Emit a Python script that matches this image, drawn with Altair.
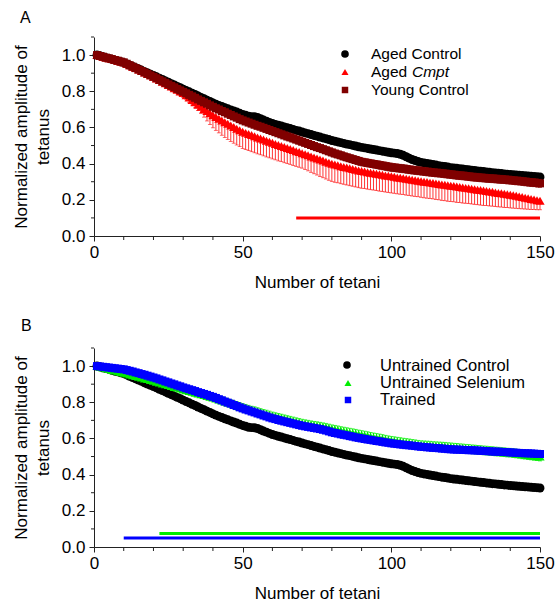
import altair as alt
import pandas as pd

# ---------------- data ----------------
tetani = list(range(1, 151))

aged_control = [
    1.000, 0.996, 0.991, 0.986, 0.982, 0.977, 0.972, 0.968, 0.963, 0.958,
    0.951, 0.944, 0.937, 0.930, 0.923, 0.916, 0.908, 0.901, 0.894, 0.887,
    0.880, 0.872, 0.865, 0.857, 0.850, 0.842, 0.835, 0.827, 0.820, 0.812,
    0.804, 0.797, 0.789, 0.782, 0.774, 0.766, 0.759, 0.751, 0.744, 0.736,
    0.729, 0.722, 0.716, 0.709, 0.703, 0.697, 0.691, 0.685, 0.678, 0.672,
    0.667, 0.662, 0.660, 0.659, 0.655, 0.648, 0.641, 0.635, 0.628, 0.622,
    0.617, 0.612, 0.608, 0.603, 0.598, 0.594, 0.589, 0.584, 0.580, 0.575,
    0.570, 0.566, 0.561, 0.556, 0.552, 0.547, 0.542, 0.538, 0.533, 0.528,
    0.524, 0.520, 0.516, 0.512, 0.508, 0.505, 0.501, 0.497, 0.493, 0.490,
    0.487, 0.484, 0.481, 0.478, 0.475, 0.472, 0.469, 0.466, 0.463, 0.460,
    0.458, 0.456, 0.452, 0.446, 0.438, 0.430, 0.423, 0.417, 0.412, 0.407,
    0.404, 0.401, 0.398, 0.395, 0.392, 0.389, 0.386, 0.384, 0.381, 0.378,
    0.376, 0.374, 0.372, 0.370, 0.368, 0.366, 0.364, 0.362, 0.360, 0.358,
    0.356, 0.354, 0.352, 0.350, 0.349, 0.347, 0.345, 0.343, 0.342, 0.340,
    0.339, 0.337, 0.336, 0.334, 0.333, 0.332, 0.330, 0.329, 0.328, 0.326,
]

aged_cmpt = [
    1.000, 0.996, 0.991, 0.987, 0.982, 0.978, 0.973, 0.969, 0.964, 0.960,
    0.952, 0.944, 0.936, 0.928, 0.920, 0.912, 0.904, 0.896, 0.888, 0.880,
    0.871, 0.862, 0.853, 0.844, 0.835, 0.826, 0.817, 0.808, 0.799, 0.790,
    0.778, 0.765, 0.752, 0.739, 0.726, 0.714, 0.702, 0.691, 0.679, 0.668,
    0.658, 0.648, 0.638, 0.629, 0.620, 0.611, 0.602, 0.593, 0.585, 0.576,
    0.570, 0.564, 0.558, 0.551, 0.545, 0.539, 0.533, 0.527, 0.521, 0.515,
    0.509, 0.503, 0.498, 0.492, 0.486, 0.481, 0.475, 0.469, 0.464, 0.458,
    0.452, 0.446, 0.440, 0.434, 0.429, 0.423, 0.417, 0.411, 0.405, 0.400,
    0.395, 0.391, 0.386, 0.382, 0.378, 0.374, 0.370, 0.366, 0.362, 0.359,
    0.356, 0.353, 0.350, 0.347, 0.344, 0.341, 0.338, 0.335, 0.333, 0.330,
    0.327, 0.324, 0.322, 0.319, 0.316, 0.314, 0.311, 0.308, 0.306, 0.303,
    0.300, 0.298, 0.295, 0.293, 0.290, 0.288, 0.285, 0.283, 0.280, 0.278,
    0.276, 0.273, 0.271, 0.268, 0.266, 0.264, 0.261, 0.259, 0.256, 0.254,
    0.251, 0.249, 0.246, 0.244, 0.241, 0.238, 0.236, 0.233, 0.231, 0.228,
    0.225, 0.222, 0.218, 0.215, 0.212, 0.209, 0.205, 0.202, 0.198, 0.195,
]

# lower (negative-direction) error bars of Aged Cmpt
aged_cmpt_err = [
    0.000, 0.002, 0.003, 0.004, 0.005, 0.006, 0.007, 0.008, 0.009, 0.010,
    0.011, 0.012, 0.012, 0.013, 0.014, 0.014, 0.015, 0.016, 0.016, 0.017,
    0.018, 0.018, 0.019, 0.020, 0.020, 0.021, 0.022, 0.022, 0.023, 0.024,
    0.025, 0.026, 0.028, 0.030, 0.033, 0.037, 0.045, 0.055, 0.063, 0.070,
    0.074, 0.078, 0.081, 0.084, 0.086, 0.088, 0.089, 0.090, 0.091, 0.092,
    0.092, 0.092, 0.092, 0.091, 0.091, 0.090, 0.090, 0.090, 0.089, 0.089,
    0.088, 0.088, 0.087, 0.087, 0.086, 0.085, 0.085, 0.084, 0.084, 0.083,
    0.084, 0.086, 0.088, 0.090, 0.092, 0.094, 0.095, 0.096, 0.097, 0.098,
    0.098, 0.097, 0.097, 0.096, 0.096, 0.096, 0.095, 0.095, 0.095, 0.095,
    0.094, 0.094, 0.094, 0.093, 0.093, 0.093, 0.092, 0.092, 0.092, 0.092,
    0.091, 0.091, 0.091, 0.090, 0.090, 0.090, 0.090, 0.089, 0.089, 0.089,
    0.089, 0.089, 0.088, 0.088, 0.088, 0.088, 0.088, 0.088, 0.088, 0.088,
    0.087, 0.087, 0.086, 0.086, 0.085, 0.085, 0.084, 0.084, 0.083, 0.083,
    0.082, 0.081, 0.080, 0.079, 0.078, 0.077, 0.076, 0.075, 0.074, 0.073,
    0.071, 0.069, 0.067, 0.065, 0.063, 0.061, 0.058, 0.055, 0.053, 0.050,
]

young_control = [
    1.000, 0.995, 0.991, 0.986, 0.982, 0.978, 0.973, 0.969, 0.964, 0.960,
    0.952, 0.944, 0.936, 0.928, 0.920, 0.912, 0.904, 0.896, 0.888, 0.880,
    0.872, 0.863, 0.855, 0.847, 0.838, 0.830, 0.822, 0.813, 0.805, 0.797,
    0.789, 0.780, 0.772, 0.764, 0.755, 0.747, 0.739, 0.731, 0.722, 0.714,
    0.706, 0.699, 0.691, 0.684, 0.676, 0.669, 0.661, 0.654, 0.646, 0.639,
    0.633, 0.627, 0.621, 0.615, 0.609, 0.604, 0.598, 0.592, 0.586, 0.580,
    0.574, 0.568, 0.562, 0.556, 0.550, 0.545, 0.539, 0.533, 0.527, 0.521,
    0.515, 0.509, 0.503, 0.497, 0.491, 0.486, 0.480, 0.474, 0.468, 0.462,
    0.456, 0.451, 0.446, 0.440, 0.435, 0.430, 0.425, 0.420, 0.415, 0.410,
    0.407, 0.404, 0.401, 0.398, 0.395, 0.392, 0.389, 0.386, 0.383, 0.380,
    0.378, 0.376, 0.374, 0.372, 0.370, 0.367, 0.365, 0.363, 0.361, 0.359,
    0.357, 0.355, 0.353, 0.351, 0.349, 0.348, 0.346, 0.344, 0.342, 0.340,
    0.338, 0.336, 0.334, 0.333, 0.331, 0.329, 0.327, 0.325, 0.324, 0.322,
    0.321, 0.319, 0.318, 0.317, 0.316, 0.314, 0.313, 0.312, 0.310, 0.309,
    0.307, 0.305, 0.304, 0.302, 0.300, 0.298, 0.296, 0.295, 0.293, 0.291,
]

young_control_err = [
    0.000, 0.001, 0.001, 0.002, 0.002, 0.003, 0.003, 0.003, 0.004, 0.004,
    0.004, 0.005, 0.005, 0.005, 0.006, 0.006, 0.006, 0.007, 0.007, 0.007,
    0.008, 0.008, 0.008, 0.009, 0.009, 0.009, 0.010, 0.010, 0.010, 0.011,
    0.011, 0.011, 0.012, 0.012, 0.012, 0.013, 0.013, 0.013, 0.014, 0.014,
    0.014, 0.014, 0.015, 0.015, 0.015, 0.015, 0.016, 0.016, 0.016, 0.016,
    0.016, 0.017, 0.017, 0.017, 0.017, 0.017, 0.017, 0.018, 0.018, 0.018,
    0.018, 0.018, 0.018, 0.018, 0.019, 0.019, 0.019, 0.019, 0.019, 0.019,
    0.019, 0.019, 0.020, 0.020, 0.020, 0.020, 0.020, 0.020, 0.020, 0.020,
    0.020, 0.020, 0.021, 0.021, 0.021, 0.021, 0.021, 0.021, 0.021, 0.021,
    0.021, 0.021, 0.021, 0.021, 0.022, 0.022, 0.022, 0.022, 0.022, 0.022,
    0.022, 0.022, 0.022, 0.022, 0.022, 0.022, 0.022, 0.022, 0.022, 0.022,
    0.022, 0.022, 0.022, 0.022, 0.022, 0.022, 0.022, 0.022, 0.022, 0.022,
    0.022, 0.022, 0.022, 0.022, 0.022, 0.022, 0.022, 0.022, 0.022, 0.022,
    0.022, 0.022, 0.022, 0.022, 0.022, 0.022, 0.022, 0.022, 0.022, 0.022,
    0.022, 0.022, 0.022, 0.022, 0.022, 0.022, 0.022, 0.022, 0.022, 0.022,
]

untrained_control = aged_control  # same control group drawn in both panels

untrained_selenium = [
    1.000, 0.996, 0.992, 0.988, 0.984, 0.979, 0.975, 0.971, 0.967, 0.963,
    0.959, 0.954, 0.950, 0.945, 0.941, 0.937, 0.932, 0.928, 0.923, 0.919,
    0.914, 0.909, 0.904, 0.900, 0.895, 0.890, 0.885, 0.881, 0.876, 0.871,
    0.867, 0.862, 0.858, 0.853, 0.849, 0.844, 0.840, 0.835, 0.831, 0.826,
    0.821, 0.815, 0.810, 0.804, 0.799, 0.794, 0.788, 0.783, 0.777, 0.772,
    0.767, 0.762, 0.757, 0.753, 0.748, 0.743, 0.738, 0.734, 0.729, 0.724,
    0.720, 0.716, 0.712, 0.707, 0.703, 0.699, 0.695, 0.691, 0.687, 0.683,
    0.680, 0.677, 0.674, 0.671, 0.669, 0.666, 0.663, 0.660, 0.656, 0.652,
    0.649, 0.646, 0.642, 0.639, 0.636, 0.632, 0.629, 0.626, 0.622, 0.619,
    0.616, 0.613, 0.609, 0.606, 0.603, 0.600, 0.597, 0.593, 0.590, 0.587,
    0.585, 0.582, 0.580, 0.577, 0.575, 0.573, 0.570, 0.568, 0.565, 0.563,
    0.562, 0.561, 0.560, 0.558, 0.557, 0.556, 0.555, 0.554, 0.552, 0.551,
    0.549, 0.548, 0.546, 0.545, 0.543, 0.542, 0.540, 0.539, 0.537, 0.536,
    0.534, 0.533, 0.531, 0.530, 0.528, 0.527, 0.525, 0.524, 0.522, 0.521,
    0.519, 0.517, 0.515, 0.512, 0.510, 0.508, 0.506, 0.504, 0.502, 0.500,
]

untrained_selenium_err = [
    0.000, 0.001, 0.002, 0.003, 0.003, 0.004, 0.004, 0.005, 0.005, 0.006,
    0.006, 0.007, 0.007, 0.008, 0.008, 0.009, 0.009, 0.010, 0.010, 0.011,
    0.011, 0.012, 0.012, 0.013, 0.013, 0.014, 0.014, 0.015, 0.015, 0.016,
    0.016, 0.016, 0.017, 0.017, 0.017, 0.018, 0.018, 0.018, 0.019, 0.019,
    0.019, 0.020, 0.020, 0.020, 0.020, 0.020, 0.021, 0.021, 0.021, 0.021,
    0.021, 0.021, 0.021, 0.022, 0.022, 0.022, 0.022, 0.022, 0.022, 0.022,
    0.022, 0.022, 0.022, 0.023, 0.023, 0.023, 0.023, 0.023, 0.023, 0.023,
    0.023, 0.023, 0.023, 0.023, 0.023, 0.023, 0.023, 0.023, 0.023, 0.023,
    0.023, 0.023, 0.023, 0.023, 0.023, 0.024, 0.024, 0.024, 0.024, 0.024,
    0.024, 0.024, 0.024, 0.024, 0.024, 0.024, 0.024, 0.024, 0.024, 0.024,
    0.024, 0.024, 0.024, 0.024, 0.024, 0.024, 0.024, 0.024, 0.024, 0.024,
    0.024, 0.024, 0.024, 0.024, 0.024, 0.024, 0.024, 0.024, 0.024, 0.024,
    0.024, 0.024, 0.024, 0.024, 0.024, 0.024, 0.024, 0.024, 0.024, 0.024,
    0.024, 0.024, 0.024, 0.024, 0.024, 0.024, 0.024, 0.024, 0.024, 0.024,
    0.024, 0.024, 0.024, 0.024, 0.024, 0.024, 0.024, 0.024, 0.024, 0.024,
]

trained = [
    1.000, 0.998, 0.996, 0.994, 0.992, 0.990, 0.988, 0.986, 0.984, 0.982,
    0.978, 0.974, 0.970, 0.965, 0.961, 0.956, 0.952, 0.947, 0.942, 0.937,
    0.932, 0.926, 0.921, 0.915, 0.910, 0.904, 0.899, 0.893, 0.888, 0.882,
    0.877, 0.872, 0.867, 0.862, 0.856, 0.851, 0.846, 0.841, 0.835, 0.830,
    0.824, 0.817, 0.811, 0.804, 0.798, 0.792, 0.785, 0.779, 0.772, 0.766,
    0.760, 0.755, 0.749, 0.744, 0.738, 0.733, 0.727, 0.722, 0.716, 0.711,
    0.707, 0.702, 0.698, 0.694, 0.690, 0.686, 0.682, 0.678, 0.674, 0.670,
    0.667, 0.664, 0.661, 0.658, 0.655, 0.652, 0.648, 0.644, 0.639, 0.634,
    0.630, 0.627, 0.623, 0.620, 0.617, 0.613, 0.610, 0.606, 0.603, 0.600,
    0.597, 0.594, 0.592, 0.589, 0.586, 0.584, 0.581, 0.578, 0.576, 0.573,
    0.571, 0.569, 0.567, 0.565, 0.563, 0.562, 0.560, 0.558, 0.556, 0.554,
    0.553, 0.551, 0.550, 0.548, 0.547, 0.546, 0.544, 0.543, 0.541, 0.540,
    0.539, 0.538, 0.538, 0.537, 0.536, 0.535, 0.535, 0.534, 0.533, 0.532,
    0.531, 0.530, 0.529, 0.528, 0.527, 0.527, 0.526, 0.525, 0.524, 0.523,
    0.522, 0.521, 0.520, 0.519, 0.518, 0.518, 0.517, 0.516, 0.515, 0.514,
]

# significance bars: start tetanus, end tetanus, height
sig_A_start = [68]
sig_A_end = [150]
sig_A_y = [0.10]
sig_B_start = [22, 10]
sig_B_end = [150, 150]
sig_B_y = [0.075, 0.05]

y_ticks = [0.0, 0.2, 0.4, 0.6, 0.8, 1.0]
y_minor = [0.1, 0.3, 0.5, 0.7, 0.9, 1.1]
x_ticks = [0, 50, 100, 150]
x_minor = [10, 20, 30, 40, 60, 70, 80, 90, 110, 120, 130, 140]

legend_A = ["Aged Control", "Aged ", "Young Control"]
legend_A_italic = "Cmpt"
legend_B = ["Untrained Control", "Untrained Selenium", "Trained"]

# ---------------- styling ----------------
FONT = "Liberation Sans"
AX = "#222222"
W, H = 446, 199
BLACK, RED, DRED = "#000000", "#ff0000", "#800000"
GREEN, BLUE = "#00ee00", "#0000ff"

xscale = alt.Scale(domain=[0, 150], nice=False, zero=False)
yscale = alt.Scale(domain=[0, 1.1], nice=False, zero=False)

xaxis = alt.Axis(values=x_ticks, format="d", tickSize=5, labelPadding=3,
                 titlePadding=14, grid=False, domainColor=AX, tickColor=AX,
                 labelFont=FONT, titleFont=FONT, labelFontSize=17,
                 titleFontSize=17, titleFontWeight="normal",
                 labelColor="#000", titleColor="#000", labelFlush=False)
yaxis = alt.Axis(values=y_ticks, format=".1f", tickSize=5, labelPadding=4,
                 titlePadding=9, grid=False, domainColor=AX, tickColor=AX,
                 labelFont=FONT, titleFont=FONT, labelFontSize=17,
                 titleFontSize=17, titleFontWeight="normal",
                 labelColor="#000", titleColor="#000", titleLineHeight=21.5)
XT = "Number of tetani"
YT = ["Normalized amplitude of", "tetanus"]


def X(f):
    return alt.X(f"{f}:Q", scale=xscale, axis=xaxis, title=XT)


def Y(f):
    return alt.Y(f"{f}:Q", scale=yscale, axis=yaxis, title=YT)


def series(values, err, color, shape, size, both=True, ew=1.0):
    df = pd.DataFrame({"t": tetani, "v": values})
    out = []
    if err is not None:
        df["lo"] = [v - e for v, e in zip(values, err)]
        df["hi"] = [v + e for v, e in zip(values, err)] if both else values
        base = alt.Chart(df)
        out.append(base.mark_rule(color=color, strokeWidth=ew).encode(
            x=X("t"), y=Y("lo"), y2="hi"))
        out.append(base.mark_tick(color=color, orient="horizontal", size=4,
                                  thickness=ew).encode(x=X("t"), y=Y("lo")))
        if both:
            out.append(base.mark_tick(color=color, orient="horizontal", size=4,
                                      thickness=ew).encode(x=X("t"), y=Y("hi")))
    out.append(alt.Chart(df).mark_point(shape=shape, filled=True, size=size,
                                        color=color, opacity=1,
                                        strokeWidth=0).encode(x=X("t"), y=Y("v")))
    return out


def minor_ticks():
    ydf = pd.DataFrame({"v": y_minor})
    xdf = pd.DataFrame({"t": x_minor})
    return [
        alt.Chart(ydf).mark_rule(color=AX, strokeWidth=1).encode(
            y=Y("v"), x=alt.value(-3), x2=alt.value(0)),
        alt.Chart(xdf).mark_rule(color=AX, strokeWidth=1).encode(
            x=X("t"), y=alt.value(H), y2=alt.value(H + 4)),
    ]


def sig_lines(starts, ends, ys, colors):
    out = []
    for s, e, y, c in zip(starts, ends, ys, colors):
        df = pd.DataFrame({"s": [s], "e": [e], "y": [y]})
        out.append(alt.Chart(df).mark_rule(color=c, strokeWidth=3).encode(
            x=X("s"), x2="e", y=Y("y")))
    return out


ONE = pd.DataFrame({"k": [0]})


def txt(text, x, y, size, italic=False):
    kw = dict(font=FONT, fontSize=size, align="left", baseline="alphabetic",
              color="#000", fontWeight="normal")
    if italic:
        kw["fontStyle"] = "italic"
    return alt.Chart(ONE).mark_text(**kw).encode(
        x=alt.value(x), y=alt.value(y), text=alt.value(text))


def sym(shape, color, x, y, size):
    return alt.Chart(ONE).mark_point(shape=shape, filled=True, size=size,
                                     color=color, opacity=1, strokeWidth=0).encode(
        x=alt.value(x), y=alt.value(y))


# ---------------- panel A ----------------
layersA = minor_ticks()
layersA += sig_lines(sig_A_start, sig_A_end, sig_A_y, [RED])
layersA += series(aged_control, None, BLACK, "circle", 80)
layersA += series(aged_cmpt, aged_cmpt_err, RED, "triangle-up", 85,
                  both=False, ew=0.8)
layersA += series(young_control, young_control_err, DRED, "square", 64)
layersA += [
    sym("circle", BLACK, 251, 17, 58),
    sym("triangle-up", RED, 251, 35, 50),
    sym("square", DRED, 251, 53, 42),
    txt(legend_A[0], 277, 21.5, 15.5),
    txt(legend_A[1], 277, 40, 15.5),
    txt(legend_A_italic, 318, 40, 15.5, italic=True),
    txt(legend_A[2], 277, 58, 15.5),
    txt("A", -74, -14, 16),
]
panelA = alt.layer(*layersA).properties(width=W, height=H)

# ---------------- panel B ----------------
layersB = minor_ticks()
layersB += sig_lines(sig_B_start, sig_B_end, sig_B_y, [GREEN, BLUE])
layersB += series(untrained_control, None, BLACK, "circle", 80)
layersB += series(untrained_selenium, untrained_selenium_err, GREEN,
                  "triangle-up", 85)
layersB += series(trained, None, BLUE, "square", 64)
layersB += [
    sym("circle", BLACK, 253, 17, 58),
    sym("triangle-up", GREEN, 254, 35, 50),
    sym("square", BLUE, 254, 52, 42),
    txt(legend_B[0], 286, 22.5, 16.5),
    txt(legend_B[1], 286, 40, 16.5),
    txt(legend_B[2], 286, 57, 16.5),
    txt("B", -73, -17.5, 16),
]
panelB = alt.layer(*layersB).properties(width=W, height=H)

chart = alt.vconcat(panelA, panelB, spacing=112, bounds="flush").configure_view(
    stroke=None).properties(padding={"left": 12, "top": 10, "right": 0, "bottom": 0},
                            background="white")

chart.save("out.html", embed_options={"renderer": "svg", "actions": False})
